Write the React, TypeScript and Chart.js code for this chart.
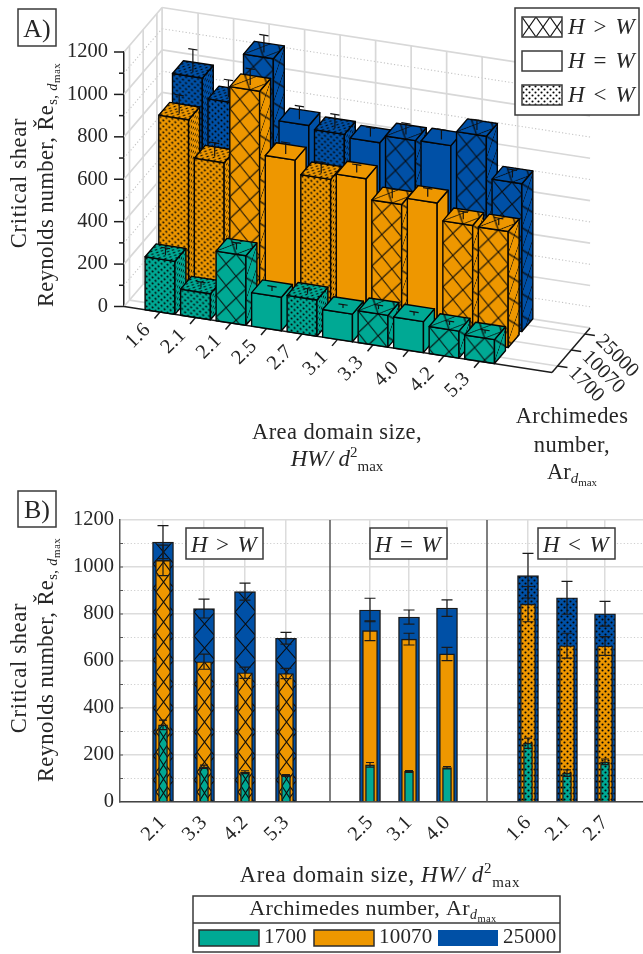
import React, { useEffect, useRef } from "react";
import { Chart, registerables } from "chart.js";

Chart.register(...registerables);

// ---- data ----
const areaLabels = ["2.1", "3.3", "4.2", "5.3", "2.5", "3.1", "4.0", "1.6", "2.1", "2.7"];
const shapeKinds = ["cross", "cross", "cross", "cross", "plain", "plain", "plain", "dots", "dots", "dots"];
const re1700 = [328, 150, 127, 113, 158, 130, 146, 250, 123, 171];
const re10070 = [1028, 597, 550, 547, 729, 693, 630, 842, 665, 664];
const re25000 = [1106, 823, 895, 697, 817, 787, 825, 963, 869, 801];
const err1700 = [20, 7, 6, 4, 10, 4, 5, 22, 14, 12];
const err10070 = [65, 32, 24, 22, 42, 25, 28, 75, 53, 40];
const err25000 = [70, 40, 36, 25, 50, 30, 35, 95, 70, 53];
const archimedes = ["1700", "10070", "25000"];
const yTicks3d = [0, 200, 400, 600, 800, 1000, 1200];
// drawing order of panel A, as indices into the arrays above (ascending area size)
const orderA = [7, 8, 0, 4, 9, 5, 1, 6, 2, 3];
// x coordinates of panel B's linear axis, in bar slots
const slotsB = [1.075, 2.1, 3.125, 4.15, 6.25, 7.225, 8.175, 10.2, 11.175, 12.125];
const panelDividers = [5.25, 9.175];

const TEAL = "#00a994";
const ORANGE = "#ee9700";
const BLUE = "#0050a6";
const colors = [TEAL, ORANGE, BLUE];
const INK = "#262626";
const SERIF = '"Liberation Serif", serif';

type Seg = { t: string; s: number; i?: boolean; dy?: number };

function drawRich(ctx: any, segs: Seg[], x: number, y: number, align: string, rot = 0, spacing = 0) {
  ctx.save();
  ctx.translate(x, y);
  ctx.rotate(rot);
  ctx.textBaseline = "alphabetic";
  ctx.textAlign = "left";
  ctx.fillStyle = INK;
  ctx.letterSpacing = spacing + "px";
  const font = (g: Seg) => `${g.i ? "italic " : ""}${g.s}px ${SERIF}`;
  let w = 0;
  for (const g of segs) {
    ctx.font = font(g);
    w += ctx.measureText(g.t).width;
  }
  let cx = align === "center" ? -w / 2 : align === "right" ? -w : 0;
  for (const g of segs) {
    ctx.font = font(g);
    ctx.fillText(g.t, cx, g.dy || 0);
    cx += ctx.measureText(g.t).width;
  }
  ctx.restore();
}

function makePattern(kind: string, color: string, w = 16, h = 20): any {
  const c = document.createElement("canvas");
  const g = c.getContext("2d") as CanvasRenderingContext2D;
  if (kind === "dots") {
    c.width = 6;
    c.height = 6;
    g.fillStyle = color;
    g.fillRect(0, 0, 6, 6);
    g.fillStyle = "#050505";
    for (const [a, b] of [[1.5, 1.5], [4.5, 4.5]]) {
      g.beginPath();
      g.arc(a, b, 1.05, 0, Math.PI * 2);
      g.fill();
    }
  } else if (kind === "cross") {
    c.width = w;
    c.height = h;
    g.fillStyle = color;
    g.fillRect(0, 0, w, h);
    g.strokeStyle = "rgba(10,10,10,0.95)";
    g.lineWidth = 1.15;
    g.beginPath();
    g.moveTo(0, 0);
    g.lineTo(w, h);
    g.moveTo(w, 0);
    g.lineTo(0, h);
    g.stroke();
  } else {
    c.width = 2;
    c.height = 2;
    g.fillStyle = color;
    g.fillRect(0, 0, 2, 2);
  }
  return g.createPattern(c, "repeat");
}

function labelBox(ctx: any, x0: number, y0: number, x1: number, y1: number) {
  ctx.save();
  ctx.fillStyle = "#fff";
  ctx.strokeStyle = "#3a3a3a";
  ctx.lineWidth = 1.5;
  ctx.fillRect(x0, y0, x1 - x0, y1 - y0);
  ctx.strokeRect(x0, y0, x1 - x0, y1 - y0);
  ctx.restore();
}

function hwLabel(op: string, size: number): Seg[] {
  return [
    { t: "H", s: size, i: true },
    { t: ` ${op} `, s: size },
    { t: "W", s: size, i: true },
  ];
}

function yTitle(ctx: any, cx1: number, cx2: number, cy1: number, cy2: number) {
  const r = -Math.PI / 2;
  drawRich(ctx, [{ t: "Critical shear", s: 22.5 }], cx1, cy1, "center", r, 0.7);
  drawRich(
    ctx,
    [
      { t: "Reynolds number, Ře", s: 22.5 },
      { t: "s,", s: 14.5, dy: 4 },
      { t: " d", s: 14.5, i: true, dy: 4 },
      { t: "max", s: 11, dy: 7 },
    ],
    cx2,
    cy2,
    "center",
    r,
    0.4
  );
}

// ---- panel A: oblique projection on top of the chart's own scales ----
const SLOPE = 0.154;
const DEPTH_X = 13.7;
const DEPTH_Y = 16;
const DEPTH_END = 2.78;
const ROW_CENTER = 0.4;
const BAR_HALF_DEPTH = 0.4;
const BAR_HALF_WIDTH = 0.42;

function panelAPlugin() {
  const patterns: any = {};
  const pat = (kind: string, color: string) => {
    const k = kind + color;
    if (!patterns[k]) patterns[k] = makePattern(kind, color, 20, 22);
    return patterns[k];
  };
  return {
    id: "panelA",
    beforeDatasetsDraw(chart: any) {
      const ctx = chart.ctx;
      const xs = chart.scales.x;
      const ys = chart.scales.y;
      const x0 = xs.left;
      const xMin = xs.min;
      const xMax = xs.max;
      const P = (xv: number, yv: number, d: number): [number, number] => {
        const px = xs.getPixelForValue(xv);
        return [px + d * DEPTH_X, ys.getPixelForValue(yv) + (px - x0) * SLOPE - d * DEPTH_Y];
      };
      const line = (a: number[], b: number[]) => {
        ctx.beginPath();
        ctx.moveTo(a[0], a[1]);
        ctx.lineTo(b[0], b[1]);
        ctx.stroke();
      };
      ctx.save();
      // walls and floor
      for (let v = 0; v <= 1200; v += 100) {
        const major = v % 200 === 0;
        ctx.strokeStyle = major ? "#d8d8d8" : "#c4c4c4";
        ctx.lineWidth = major ? 1.7 : 1.1;
        ctx.setLineDash(major ? [] : [1.2, 2.2]);
        line(P(xMin, v, 0), P(xMin, v, DEPTH_END));
        line(P(xMin, v, DEPTH_END), P(xMax, v, DEPTH_END));
      }
      ctx.setLineDash([]);
      ctx.strokeStyle = "#d8d8d8";
      ctx.lineWidth = 1.7;
      line(P(xMin, 0, DEPTH_END), P(xMin, 1200, DEPTH_END));
      for (let r = 0; r < 3; r++) {
        line(P(xMin, 0, ROW_CENTER + r), P(xMin, 1200, ROW_CENTER + r));
        line(P(xMin, 0, ROW_CENTER + r), P(xMax, 0, ROW_CENTER + r));
      }
      orderA.forEach((_, i) => {
        line(P(i, 0, 0), P(i, 0, DEPTH_END));
        line(P(i, 0, DEPTH_END), P(i, 1200, DEPTH_END));
      });
      // axis lines, ticks, labels
      ctx.strokeStyle = "#1c1c1c";
      ctx.lineWidth = 1.5;
      line(P(xMin, 0, 0), P(xMax, 0, 0));
      line(P(xMax, 0, 0), P(xMax, 0, DEPTH_END));
      for (let v = 0; v <= 1200; v += 100) {
        const y = ys.getPixelForValue(v);
        line([x0, y], [x0 - (v % 200 === 0 ? 10 : 5), y]);
      }
      orderA.forEach((src, i) => {
        const a = P(i, 0, 0);
        line(a, [a[0] - 5.5, a[1] + 6.5]);
        ctx.save();
        ctx.translate(a[0] - 22, a[1] + 24);
        ctx.rotate(-Math.PI / 4);
        ctx.font = `20.5px ${SERIF}`;
        ctx.fillStyle = INK;
        ctx.textAlign = "center";
        ctx.textBaseline = "middle";
        ctx.fillText(areaLabels[src], 0, 0);
        ctx.restore();
      });
      archimedes.forEach((label, r) => {
        const a = P(xMax, 0, ROW_CENTER + r);
        line(a, [a[0] + 10, a[1] + 1.5]);
        ctx.save();
        ctx.translate(a[0] + 14, a[1] + 4);
        ctx.rotate(Math.PI / 4);
        ctx.font = `20.5px ${SERIF}`;
        ctx.fillStyle = INK;
        ctx.textAlign = "left";
        ctx.textBaseline = "middle";
        ctx.fillText(label, 0, 0);
        ctx.restore();
      });

      // bars, back row first, left to right inside a row
      const face = (pts: number[][], pattern: any, basis: number[]) => {
        ctx.save();
        ctx.beginPath();
        pts.forEach((p, k) => (k ? ctx.lineTo(p[0], p[1]) : ctx.moveTo(p[0], p[1])));
        ctx.closePath();
        ctx.save();
        ctx.clip();
        ctx.transform(basis[0], basis[1], basis[2], basis[3], pts[0][0], pts[0][1]);
        ctx.fillStyle = pattern;
        ctx.fillRect(-600, -600, 1200, 1200);
        ctx.restore();
        ctx.strokeStyle = "#050505";
        ctx.lineWidth = 1.4;
        ctx.lineJoin = "round";
        ctx.stroke();
        ctx.restore();
      };
      const k = 0.62;
      const front = [1, SLOPE, 0, 1];
      const side = [k * DEPTH_X / 13.7, -k * DEPTH_Y / 13.7, 0, 1];
      const top = [1, SLOPE, k * DEPTH_X / 13.7, -k * DEPTH_Y / 13.7];
      for (let r = 2; r >= 0; r--) {
        const ds = chart.data.datasets[r];
        orderA.forEach((src, i) => {
          const val = ds.data[i].y;
          const kind = shapeKinds[src];
          const p = pat(kind, colors[r]);
          const xa = i - BAR_HALF_WIDTH;
          const xb = i + BAR_HALF_WIDTH;
          const da = ROW_CENTER + r - BAR_HALF_DEPTH;
          const db = ROW_CENTER + r + BAR_HALF_DEPTH;
          face([P(xa, val, da), P(xb, val, da), P(xb, 0, da), P(xa, 0, da)], p, front);
          face([P(xb, val, da), P(xb, val, db), P(xb, 0, db), P(xb, 0, da)], p, side);
          face([P(xa, val, da), P(xb, val, da), P(xb, val, db), P(xa, val, db)], p, top);
          // whisker
          const e = ds.errors[i];
          const mid = ROW_CENTER + r;
          const a = P(i, val, mid);
          const b = P(i, val + e, mid);
          const c1 = P(i - 0.13, val + e, mid);
          const c2 = P(i + 0.13, val + e, mid);
          ctx.strokeStyle = "#111";
          ctx.lineWidth = 1.2;
          line([a[0], a[1] + 2.5], b);
          line(c1, c2);
        });
      }
      ctx.restore();
    },
    afterDraw(chart: any) {
      const ctx = chart.ctx;
      labelBox(ctx, 18, 9, 56, 46);
      drawRich(ctx, [{ t: "A)", s: 26 }], 37, 36.5, "center");
      yTitle(ctx, 26, 53, 183, 185);
      drawRich(ctx, [{ t: "Area domain size,", s: 22.5 }], 337, 439, "center", 0, 0.4);
      drawRich(
        ctx,
        [
          { t: "HW/ d", s: 23, i: true },
          { t: "2", s: 15, dy: -9 },
          { t: "max", s: 15, dy: 5 },
        ],
        337,
        466,
        "center"
      );
      drawRich(ctx, [{ t: "Archimedes", s: 22.5 }], 572, 423, "center", 0, 0.4);
      drawRich(ctx, [{ t: "number,", s: 22.5 }], 572, 452, "center", 0, 0.4);
      drawRich(
        ctx,
        [
          { t: "Ar", s: 22.5 },
          { t: "d", s: 15, i: true, dy: 4 },
          { t: "max", s: 11, dy: 7 },
        ],
        572,
        479,
        "center"
      );
      // pattern legend
      labelBox(ctx, 515, 8, 639, 115);
      const rows: [string, string][] = [
        ["cross", ">"],
        ["plain", "="],
        ["dots", "<"],
      ];
      rows.forEach(([kind, op], i) => {
        const y = 17 + i * 34;
        ctx.save();
        ctx.translate(522, y);
        ctx.fillStyle = makePattern(kind, "#ffffff", 14, 20);
        ctx.fillRect(0, 0, 40, 20);
        ctx.strokeStyle = "#3a3a3a";
        ctx.lineWidth = 1.5;
        ctx.strokeRect(0, 0, 40, 20);
        ctx.restore();
        drawRich(ctx, hwLabel(op, 23), 568, y + 17, "left", 0, 1.6);
      });
    },
  };
}

// ---- panel B ----
function panelBPlugin() {
  return {
    id: "panelB",
    beforeDatasetsDraw(chart: any) {
      // anchor each bar's pattern to the bar itself, as per-bar hatching does
      chart.data.datasets.forEach((ds: any, r: number) => {
        chart.getDatasetMeta(r).data.forEach((el: any, i: number) => {
          const p = ds.backgroundColor[i];
          if (p && p.setTransform) {
            p.setTransform(new DOMMatrix([1, 0, 0, 1, Math.round(el.x - ds.barThickness / 2), 2]));
          }
        });
      });
    },
    afterDatasetsDraw(chart: any) {
      const ctx = chart.ctx;
      const xs = chart.scales.x;
      const ys = chart.scales.y;
      ctx.save();
      ctx.strokeStyle = "#555";
      ctx.lineWidth = 1.5;
      panelDividers.forEach((d) => {
        const x = xs.getPixelForValue(d);
        ctx.beginPath();
        ctx.moveTo(x, ys.top);
        ctx.lineTo(x, ys.bottom);
        ctx.stroke();
      });
      ctx.lineWidth = 1;
      for (let v = 100; v < 1200; v += 100) {
        const y = ys.getPixelForValue(v);
        ctx.strokeStyle = "#555";
        ctx.beginPath();
        ctx.moveTo(xs.left, y);
        ctx.lineTo(xs.left + 3, y);
        ctx.stroke();
      }
      // whiskers
      ctx.strokeStyle = "#1a1a1a";
      ctx.lineWidth = 1.2;
      for (let r = 2; r >= 0; r--) {
        const ds = chart.data.datasets[r];
        const half = r === 0 ? 4 : 5.5;
        ds.data.forEach((pt: any, i: number) => {
          const x = xs.getPixelForValue(pt.x);
          const hi = ys.getPixelForValue(pt.y + ds.errors[i]);
          const lo = ys.getPixelForValue(pt.y - ds.errors[i]);
          ctx.beginPath();
          ctx.moveTo(x, hi);
          ctx.lineTo(x, lo);
          ctx.moveTo(x - half, hi);
          ctx.lineTo(x + half, hi);
          ctx.moveTo(x - half, lo);
          ctx.lineTo(x + half, lo);
          ctx.stroke();
        });
      }
      ctx.restore();
    },
    afterDraw(chart: any) {
      const ctx = chart.ctx;
      labelBox(ctx, 18, 1, 56, 37);
      drawRich(ctx, [{ t: "B)", s: 26 }], 37, 27.5, "center");
      yTitle(ctx, 26, 53, 178, 170);
      [[186, 263, ">"], [370, 447, "="], [538, 615, "<"]].forEach((b: any) => {
        labelBox(ctx, b[0], 38, b[1], 69);
        drawRich(ctx, hwLabel(b[2], 23), (b[0] + b[1]) / 2, 62, "center", 0, 1.4);
      });
      drawRich(
        ctx,
        [
          { t: "Area domain size, ", s: 22.5 },
          { t: "HW/ d", s: 23, i: true },
          { t: "2", s: 15, dy: -9 },
          { t: "max", s: 15, dy: 5 },
        ],
        380,
        392,
        "center",
        0,
        0.7
      );
      // legend table
      labelBox(ctx, 193, 406, 560, 462);
      ctx.save();
      ctx.strokeStyle = "#3a3a3a";
      ctx.lineWidth = 1.5;
      ctx.beginPath();
      ctx.moveTo(193, 433);
      ctx.lineTo(560, 433);
      ctx.stroke();
      ctx.restore();
      drawRich(
        ctx,
        [
          { t: "Archimedes number, Ar", s: 22 },
          { t: "d", s: 14, i: true, dy: 4 },
          { t: "max", s: 10.5, dy: 7 },
        ],
        373,
        425,
        "center",
        0,
        0.4
      );
      const xs0 = [199, 314, 438];
      archimedes.forEach((label, i) => {
        ctx.save();
        ctx.fillStyle = colors[i];
        ctx.fillRect(xs0[i], 440, 60, 16);
        if (i < 2) {
          ctx.strokeStyle = "#2c2c2c";
          ctx.lineWidth = 1.5;
          ctx.strokeRect(xs0[i], 440, 60, 16);
        }
        ctx.restore();
        drawRich(ctx, [{ t: label, s: 21 }], xs0[i] + 65, 453, "left", 0, 0.2);
      });
    },
  };
}

export default function App() {
  const refA = useRef<HTMLCanvasElement>(null);
  const refB = useRef<HTMLCanvasElement>(null);

  useEffect(() => {
    const seriesA = [re1700, re10070, re25000];
    const errsA = [err1700, err10070, err25000];
    const chartA = new Chart(refA.current as any, {
      type: "bar",
      data: {
        datasets: archimedes.map((name, r) => ({
          label: name,
          data: orderA.map((src, i) => ({ x: i, y: seriesA[r][src] })),
          errors: orderA.map((src) => errsA[r][src]),
          backgroundColor: "rgba(0,0,0,0)",
          borderWidth: 0,
          grouped: false,
        })) as any,
      },
      options: {
        animation: false,
        responsive: false,
        layout: { padding: { top: 52, bottom: 490 - 306.5, left: 0, right: 91 } },
        plugins: { legend: { display: false }, tooltip: { enabled: false } },
        scales: {
          x: { type: "linear", display: false, min: -1.014, max: 11.04, offset: false },
          y: {
            min: 0,
            max: 1200,
            afterBuildTicks: (s: any) => {
              s.ticks = yTicks3d.map((value) => ({ value }));
            },
            afterFit: (s: any) => {
              s.width = 124;
            },
            grid: { drawOnChartArea: false, drawTicks: false },
            border: { display: true, color: "#1c1c1c", width: 1.5 },
            ticks: {
              padding: 16,
              color: INK,
              font: { family: SERIF, size: 20.5 },
              callback: (v: number) => String(v),
            },
          },
        },
      } as any,
      plugins: [panelAPlugin()],
    });

    const hatchSize: [number, number][] = [[9, 14], [15, 20], [21, 24]];
    const withPatterns = (color: string, r: number) =>
      shapeKinds.map((k) => makePattern(k, color, hatchSize[r][0], hatchSize[r][1]));
    const seriesB = [
      { data: re1700, errors: err1700, color: TEAL, w: 9, edge: "#1a1a1a" },
      { data: re10070, errors: err10070, color: ORANGE, w: 15, edge: "#1a1a1a" },
      { data: re25000, errors: err25000, color: BLUE, w: 21, edge: "#1a1a1a" },
    ];
    const chartB = new Chart(refB.current as any, {
      type: "bar",
      data: {
        datasets: seriesB.map((s, r) => ({
          label: archimedes[r],
          data: s.data.map((y, i) => ({ x: slotsB[i], y })),
          errors: s.errors,
          backgroundColor: withPatterns(s.color, r),
          borderColor: s.edge,
          borderWidth: 1.4,
          barThickness: s.w,
          grouped: false,
        })) as any,
      },
      options: {
        animation: false,
        responsive: false,
        layout: { padding: { top: 30, bottom: 464 - 312 - 55, left: 0, right: 0 } },
        plugins: { legend: { display: false }, tooltip: { enabled: false } },
        scales: {
          x: {
            type: "linear",
            min: 0,
            max: 13.075,
            offset: false,
            afterBuildTicks: (s: any) => {
              s.ticks = slotsB.map((value) => ({ value }));
            },
            afterFit: (s: any) => {
              s.height = 55;
            },
            grid: { color: "#dcdcdc", lineWidth: 1.5, drawTicks: false, offset: false },
            border: { display: true, color: "#444", width: 1.5 },
            ticks: {
              callback: (_: any, i: number) => areaLabels[i],
              autoSkip: false,
              minRotation: 45,
              maxRotation: 45,
              padding: 9,
              color: INK,
              font: { family: SERIF, size: 20.5 },
            },
          },
          y: {
            min: 0,
            max: 1200,
            afterFit: (s: any) => {
              s.width = 120;
            },
            grid: {
              drawTicks: false,
              color: (c: any) => (c.tick.value % 200 === 0 ? "#dcdcdc" : "#cfcfcf"),
              lineWidth: (c: any) => (c.tick.value % 200 === 0 ? 1.5 : 1.1),
            },
            border: {
              display: true,
              color: "#555",
              width: 1.5,
              dash: (c: any) => (c.tick && c.tick.value % 200 !== 0 ? [1.2, 2.2] : []),
            },
            ticks: {
              stepSize: 100,
              autoSkip: false,
              padding: 6,
              color: INK,
              font: { family: SERIF, size: 20.5 },
              callback: (v: number) => (v % 200 === 0 ? String(v) : ""),
            },
          },
        },
      } as any,
      plugins: [panelBPlugin()],
    });

    return () => {
      chartA.destroy();
      chartB.destroy();
    };
  }, []);

  return (
    <div style={{ position: "absolute", left: 0, top: 0, width: 643, height: 954, background: "#fff", overflow: "hidden" }}>
      <canvas ref={refA} width={643} height={490} style={{ position: "absolute", left: 0, top: 0, width: 643, height: 490 }} />
      <canvas ref={refB} width={643} height={464} style={{ position: "absolute", left: 0, top: 490, width: 643, height: 464 }} />
    </div>
  );
}
